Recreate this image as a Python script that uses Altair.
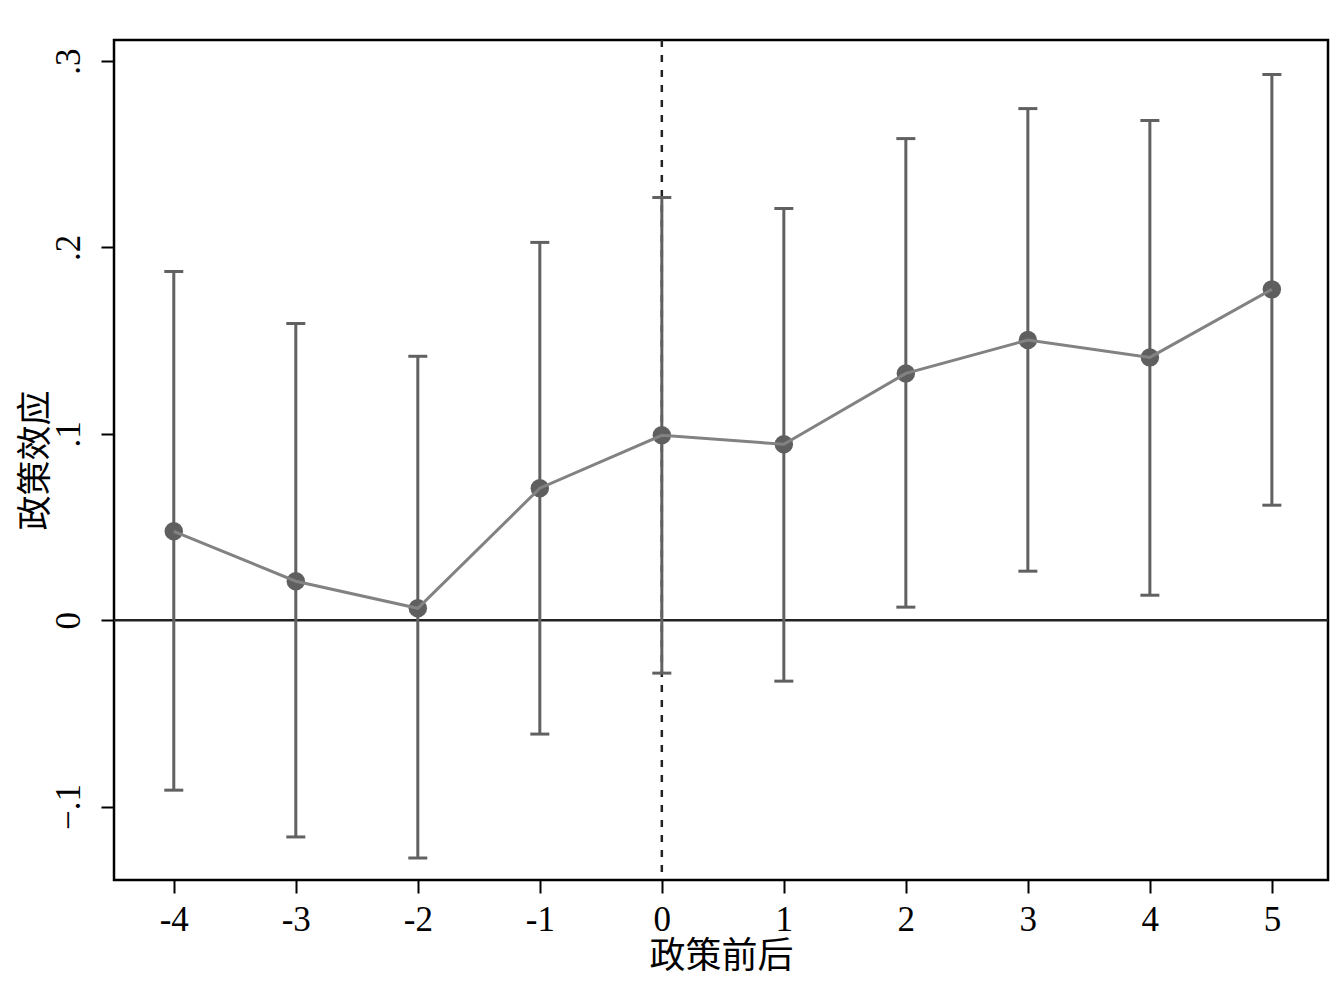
import altair as alt
import pandas as pd

periods = [-4, -3, -2, -1, 0, 1, 2, 3, 4, 5]
coef = [0.0477, 0.0209, 0.0064, 0.0708, 0.0992, 0.0944, 0.1324, 0.1503, 0.1410, 0.1775]
ci_low = [-0.0912, -0.1163, -0.1276, -0.0611, -0.0284, -0.0327, 0.0070, 0.0263, 0.0134, 0.0617]
ci_high = [0.1871, 0.1592, 0.1416, 0.2027, 0.2268, 0.2209, 0.2584, 0.2745, 0.2681, 0.2928]
x_ticks = [-4, -3, -2, -1, 0, 1, 2, 3, 4, 5]
y_ticks = [-0.1, 0, 0.1, 0.2, 0.3]

df = pd.DataFrame({"t": periods, "b": coef, "lo": ci_low, "hi": ci_high})

FONT = "Times New Roman, Liberation Serif, serif"
CJK = "Noto Sans CJK SC"

W, H = 1214, 840
xs = alt.Scale(domain=[-4.49, 5.46], nice=False, zero=False)
ys = alt.Scale(domain=[-0.1394, 0.3113], nice=False, zero=False)

ylabel_expr = "datum.value == 0 ? '0' : replace(format(datum.value, '.1f'), '0.', '.')"
xlabel_expr = "toString(datum.value)"

x_axis = alt.Axis(values=x_ticks, title="政策前后", titleFont=CJK, titleFontSize=36,
                  titleFontWeight="normal", titleColor="black",
                  titleX=W / 2, titleY=76, titleAlign="center", titleBaseline="middle",
                  labelFont=FONT, labelFontSize=35, labelColor="black", labelPadding=9,
                  labelExpr=xlabel_expr,
                  tickSize=13, tickWidth=2, tickColor="black", domain=False, grid=False)
y_axis = alt.Axis(values=y_ticks, title="政策效应", titleFont=CJK, titleFontSize=35,
                  titleFontWeight="normal", titleColor="black",
                  titleX=-79, titleY=H / 2, titleAngle=-90, titleAlign="center", titleBaseline="middle",
                  labelFont=FONT, labelFontSize=35, labelColor="black", labelAngle=-90,
                  labelAlign="center", labelBaseline="bottom", labelPadding=15,
                  labelExpr=ylabel_expr,
                  tickSize=13, tickWidth=2, tickColor="black", domain=False, grid=False)

base = alt.Chart(df)

zero_line = alt.Chart(pd.DataFrame({"y": [0]})).mark_rule(color="#222222", strokeWidth=2.5).encode(
    y=alt.Y("y:Q", scale=ys, axis=y_axis)
)
vline = alt.Chart(pd.DataFrame({"x": [0]})).mark_rule(color="#222222", strokeWidth=2.5, strokeDash=[7, 8]).encode(
    x=alt.X("x:Q", scale=xs, axis=x_axis)
)
bars = base.mark_rule(color="#616161", strokeWidth=3, opacity=1).encode(
    x=alt.X("t:Q", scale=xs, axis=x_axis),
    y=alt.Y("lo:Q", scale=ys, axis=y_axis),
    y2="hi:Q",
)
cap_lo = base.mark_tick(color="#616161", orient="horizontal", size=19, thickness=3, opacity=1).encode(
    x=alt.X("t:Q", scale=xs), y=alt.Y("lo:Q", scale=ys)
)
cap_hi = base.mark_tick(color="#616161", orient="horizontal", size=19, thickness=3, opacity=1).encode(
    x=alt.X("t:Q", scale=xs), y=alt.Y("hi:Q", scale=ys)
)
pts = base.mark_circle(color="#5f5f5f", size=340, opacity=1).encode(
    x=alt.X("t:Q", scale=xs), y=alt.Y("b:Q", scale=ys)
)
line = base.mark_line(color="#828282", strokeWidth=3).encode(
    x=alt.X("t:Q", scale=xs), y=alt.Y("b:Q", scale=ys)
)

chart = alt.layer(zero_line, vline, bars, cap_lo, cap_hi, pts, line).properties(
    width=W, height=H,
    autosize=alt.AutoSizeParams(type="none"),
    padding={"left": 106, "top": 32, "right": 2, "bottom": 96},
    background="white",
).configure_view(stroke="black", strokeWidth=2.5)

chart.save("out.html", embed_options={"renderer": "svg", "actions": False})
